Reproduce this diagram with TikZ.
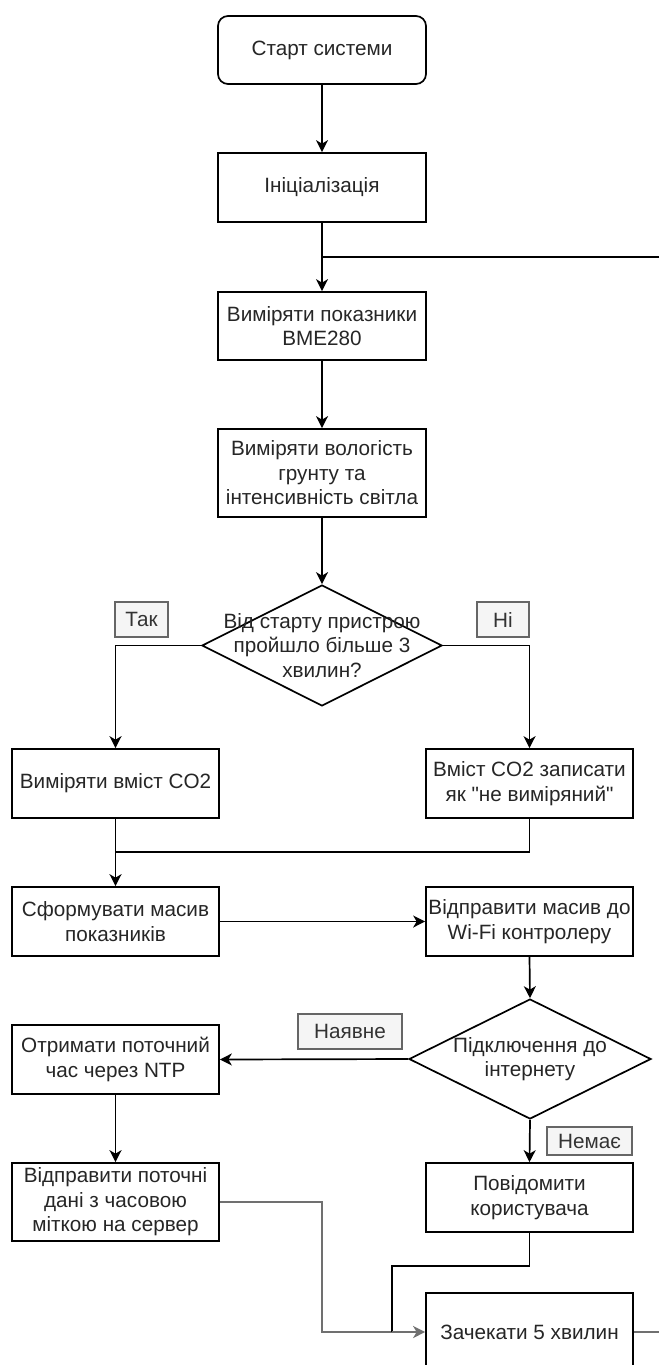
\documentclass[tikz,border=0pt]{standalone}
\usepackage{fontspec}
\setmainfont{Liberation Sans}[Ligatures=TeXOff]
\usetikzlibrary{shapes.geometric,arrows.meta,calc}
\definecolor{txtc}{HTML}{262626}
\definecolor{lblfill}{HTML}{F5F5F5}
\definecolor{lbldraw}{HTML}{666666}
\definecolor{lbltxt}{HTML}{333333}
\definecolor{grayline}{HTML}{707070}
\begin{document}
\begin{tikzpicture}[x=1pt,y=-1pt,
  fnt/.style={font=\fontsize{20.7}{24.5}\selectfont},
  box/.style={draw=black,line width=1.7pt,fill=white,minimum width=207pt,minimum height=69pt,inner sep=0pt,align=center,text=txtc,fnt},
  startbox/.style={box,rounded corners=10pt,minimum width=208pt,minimum height=68pt},
  dia/.style={draw=black,line width=1.7pt,fill=white,diamond,inner sep=0pt},
  diatext/.style={align=center,text=txtc,fnt,inner sep=0pt},
  lbl/.style={draw=lbldraw,fill=lblfill,line width=1.2pt,text=lbltxt,inner sep=0pt,minimum height=35pt,fnt},
  conn/.style={draw=black,line width=1.7pt},
  arr/.style={conn,-{Stealth[length=12pt,width=12pt,inset=3.5pt]}},
  gconn/.style={draw=grayline,line width=2.2pt},
  garr/.style={gconn,-{Stealth[length=12pt,width=12pt,inset=3.5pt]}}
]
\useasboundingbox (0,0) rectangle (659,1365);
\clip (0,0) rectangle (659,1365);
\fill[white] (0,0) rectangle (659,1365);

% nodes
\node[startbox] (start) at (322,50) {Старт системи};
\node[box,minimum width=208pt] (init) at (322,187.5) {Ініціалізація};
\node[box,minimum width=208pt,minimum height=68pt] (bme) at (322,326) {Виміряти показники\\BME280};
\node[box,minimum width=208pt,minimum height=88pt] (soil) at (322,473) {Виміряти вологість\\грунту та\\інтенсивність світла};
\node[dia,minimum width=240pt,minimum height=121pt] (d1) at (322,645.5) {};
\node[diatext] (d1t) at (d1.center) {Від старту пристрою\\пройшло більше 3\\хвилин?};
\node[lbl,minimum width=53pt] (yes1) at (141.5,619.5) {Так};
\node[lbl,minimum width=52pt] (no1) at (503,619.5) {Ні};
\node[box] (co2) at (115.5,783.5) {Виміряти вміст CO2};
\node[box] (noco2) at (529.5,783.5) {Вміст CO2 записати\\як "не виміряний"};
\node[box] (form) at (115.5,921.5) {Сформувати масив\\показників};
\node[box] (send) at (529.5,921.5) {Відправити масив до\\Wi-Fi контролеру};
\node[dia,minimum width=242pt,minimum height=120pt] (d2) at (530,1059) {};
\node[diatext] (d2t) at (d2.center) {Підключення до\\інтернету};
\node[lbl,minimum width=104pt] (yes2) at (350,1031.5) {Наявне};
\node[lbl,minimum width=85pt,minimum height=28pt] (no2) at (589.5,1141) {Немає};
\node[box] (ntp) at (115.5,1059.5) {Отримати поточний\\час через NTP};
\node[box,minimum height=78pt] (srv) at (115.5,1202) {Відправити поточні\\дані з часовою\\міткою на сервер};
\node[box] (notify) at (529.5,1197.5) {Повідомити\\користувача};
\node[box,minimum height=78pt] (wait) at (529.5,1332) {Зачекати 5 хвилин};

% coordinates
\coordinate (fb) at (659,257);
\coordinate (j1) at (init.south |- fb);
\coordinate (j2) at (co2.south |- 0,852);
\coordinate (g1) at (322,1202);
\coordinate (g2) at (322,1332);
\coordinate (n1) at (529.5,1266);
\coordinate (n2) at (392,1266);
\coordinate (n3) at (392,1332);
\coordinate (out) at (659,1332);

% connectors
\draw[arr] (start.south) -- (init.north);
\draw[arr] (init.south) -- (bme.north);
\draw[conn] (fb) -- (j1);
\draw[arr] (bme.south) -- (soil.north);
\draw[arr] (soil.south) -- (d1.north);
\draw[arr] (d1.west) -| (co2.north);
\draw[arr] (d1.east) -| (noco2.north);
\draw[arr] (co2.south) -- (form.north);
\draw[conn] (noco2.south) |- (j2);
\draw[arr] (form.east) -- (send.west);
\draw[arr] (send.south) -- (d2.north);
\draw[arr] (d2.west) -- (ntp.east);
\draw[arr] (d2.south) -- (notify.north);
\draw[arr] (ntp.south) -- (srv.north);
\draw[gconn] (srv.east) -- (g1) -- (g2) -- (n3);
\draw[conn] (notify.south) -- (n1) -- (n2) -- (n3);
\draw[garr] (n3) -- (wait.west);
\draw[gconn] (wait.east) -- (out);
\end{tikzpicture}
\end{document}
